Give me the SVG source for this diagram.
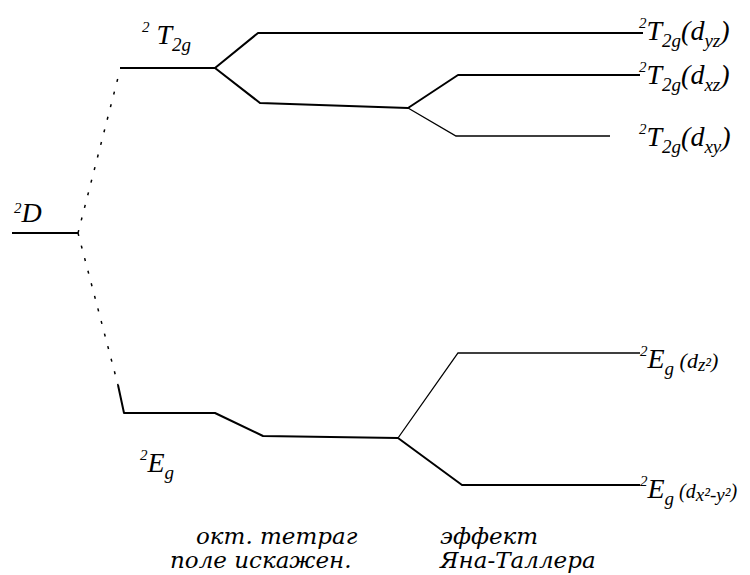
<svg xmlns="http://www.w3.org/2000/svg" width="750" height="575" viewBox="0 0 750 575">
<style>
.lv{fill:none;stroke:#000;stroke-width:2;stroke-linejoin:round}
.thin{fill:none;stroke:#000;stroke-width:1.3}
.dot{fill:none;stroke:#000;stroke-width:1.5;stroke-dasharray:3 10}
.lb{font-family:"Liberation Serif","DejaVu Serif",serif;font-style:italic;font-size:28px;fill:#000}
.sup{font-size:15px}
.sub{font-size:19px}
.cap{font-family:"DejaVu Serif","Liberation Serif",serif;font-style:italic;font-size:23px;fill:#000}
</style>
<rect width="750" height="575" fill="#fff"/>
<g id="connectors">
<path class="lv" d="M12 233 H78"/>
<path class="dot" d="M78 233 L120 70"/>
<path class="dot" d="M78 233 L118 385"/>
<path class="lv" d="M120 68 H215 L258 33 H643"/>
<path class="lv" d="M215 68 L260 103 L408 108 L458 75 H640"/>
<path class="thin" d="M408 108 L456 136 H610"/>
<path class="lv" d="M118 385 L124 413 H215 L263 436 L398 438"/>
<path class="thin" d="M398 438 L458 353 H640"/>
<path class="lv" d="M398 438 L462 485 H640"/>
</g>
<g id="D"><text class="lb" x="14" y="222"><tspan class="sup" dy="-9">2</tspan><tspan dy="9" font-size="28">D</tspan></text></g>
<g id="T2g"><text class="lb" x="142" y="44"><tspan class="sup" dy="-12">2</tspan><tspan dy="12"> T</tspan><tspan class="sub" dy="7">2g</tspan></text></g>
<g id="Eg"><text class="lb" x="140" y="472"><tspan class="sup" dy="-12">2</tspan><tspan dy="12" font-size="28">E</tspan><tspan class="sub" dy="7">g</tspan></text></g>
<g id="T2g_yz"><text class="lb" x="639" y="40"><tspan class="sup" dy="-12">2</tspan><tspan dy="12">T</tspan><tspan class="sub" dy="7">2g</tspan><tspan dy="-7">(d</tspan><tspan class="sub" dy="7">yz</tspan><tspan dy="-7">)</tspan></text></g>
<g id="T2g_xz"><text class="lb" x="639" y="84"><tspan class="sup" dy="-12">2</tspan><tspan dy="12">T</tspan><tspan class="sub" dy="7">2g</tspan><tspan dy="-7">(d</tspan><tspan class="sub" dy="7">xz</tspan><tspan dy="-7">)</tspan></text></g>
<g id="T2g_xy"><text class="lb" x="639" y="146"><tspan class="sup" dy="-12">2</tspan><tspan dy="12">T</tspan><tspan class="sub" dy="7">2g</tspan><tspan dy="-7">(d</tspan><tspan class="sub" dy="7">xy</tspan><tspan dy="-7">)</tspan></text></g>
<g id="Eg_z2"><text class="lb" x="640" y="368"><tspan class="sup" dy="-12">2</tspan><tspan dy="12">E</tspan><tspan class="sub" dy="7">g</tspan><tspan dy="-7" font-size="22"> (d</tspan><tspan class="sub" dy="3" font-size="15">z²</tspan><tspan dy="-3" font-size="22">)</tspan></text></g>
<g id="Eg_x2y2"><text class="lb" x="640" y="498"><tspan class="sup" dy="-12">2</tspan><tspan dy="12">E</tspan><tspan class="sub" dy="7">g</tspan><tspan dy="-7" font-size="20"> (d</tspan><tspan class="sub" dy="3" font-size="14">x²-y²</tspan><tspan dy="-3" font-size="20">)</tspan></text></g>
<g id="captions">
<text class="cap" x="196" y="544">окт. тетраг</text>
<text class="cap" x="170" y="568">поле искажен.</text>
<text class="cap" x="440" y="544">эффект</text>
<text class="cap" x="440" y="568">Яна-Таллера</text>
</g>
</svg>
